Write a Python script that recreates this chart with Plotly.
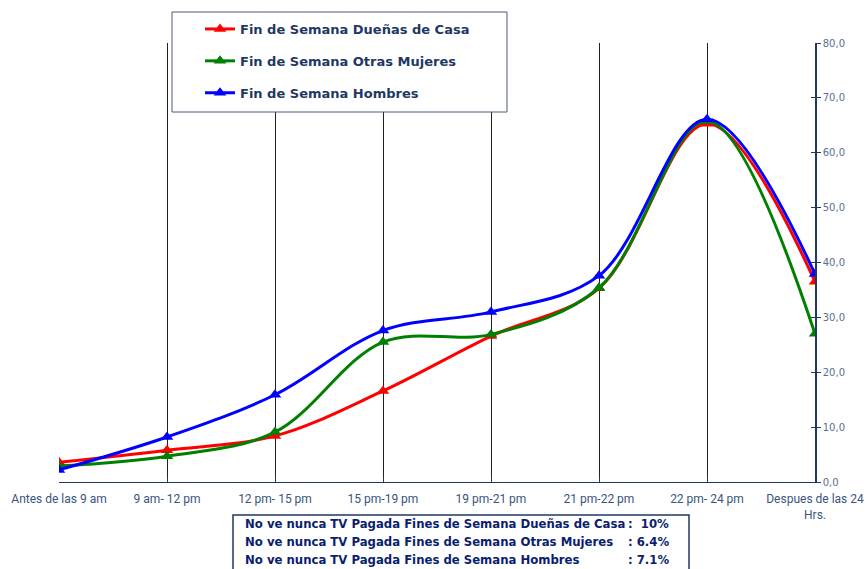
import plotly.graph_objects as go

categories = ["Antes de las 9 am", "9 am- 12 pm", "12 pm- 15 pm", "15 pm-19 pm",
              "19 pm-21 pm", "21 pm-22 pm", "22 pm- 24 pm", "Despues de las 24<br>Hrs."]
duenas = [3.6, 5.8, 8.4, 16.6, 26.6, 35.3, 65.3, 36.5]
otras = [2.9, 4.7, 9.1, 25.5, 26.9, 35.4, 65.8, 27.0]
hombres = [2.2, 8.2, 15.9, 27.6, 31.0, 37.6, 66.1, 37.9]
series_names = ["Fin de Semana Dueñas de Casa", "Fin de Semana Otras Mujeres", "Fin de Semana Hombres"]
series_colors = ["#FF0000", "#008000", "#0000FF"]
note_labels = ["No ve nunca TV Pagada Fines de Semana Dueñas de Casa",
               "No ve nunca TV Pagada Fines de Semana Otras Mujeres",
               "No ve nunca TV Pagada Fines de Semana Hombres"]
note_values = [":  10%", ": 6.4%", ": 7.1%"]
y_ticks = [0, 10, 20, 30, 40, 50, 60, 70, 80]

W, H = 868, 569
L, R, T, B = 59, 815, 43, 482  # plot area in page pixels


def px(x):
    return (x - L) / (R - L)


def py(y):
    return (B - y) / (B - T)


NAVY = "#1F3864"
fig = go.Figure()
for i, (name, vals, col) in enumerate(zip(series_names, [duenas, otras, hombres], series_colors)):
    fig.add_trace(go.Scatter(
        x=categories, y=vals, name=f"<b>{name}</b>", mode="lines+markers",
        line=dict(color=col, width=3, shape="spline", smoothing=1.0),
        marker=dict(symbol="triangle-up", size=11, color=col),
        legendgroup=f"g{i}",
    ))
# helper trace for the inner tick marks axis
fig.add_trace(go.Scatter(x=[categories[0]], y=[None], yaxis="y2", showlegend=False,
                         hoverinfo="skip", mode="markers"))

fig.update_layout(
    width=W, height=H,
    margin=dict(l=L, r=W - R, t=T, b=H - B, autoexpand=False),
    paper_bgcolor="white", plot_bgcolor="white",
    separators=",.",
    showlegend=True,
    legend=dict(
        x=px(200), y=py(14), xanchor="left", yanchor="top",
        bgcolor="rgba(0,0,0,0)", borderwidth=0,
        font=dict(family="DejaVu Sans", size=13, color=NAVY),
        traceorder="grouped", tracegroupgap=12,
        itemwidth=30,
    ),
    xaxis=dict(
        type="category", range=[0, 7], automargin=False,
        showgrid=True, gridcolor="#222222", gridwidth=1,
        showline=True, linecolor=NAVY, linewidth=1,
        ticks="inside", ticklen=5, tickcolor=NAVY,
        ticklabelstandoff=6,
        tickfont=dict(family="Roboto", size=12, color="#3A5580"),
        zeroline=False, fixedrange=True,
    ),
    yaxis=dict(
        side="right", range=[0, 80], tickvals=y_ticks, tickformat=".1f", automargin=False,
        showgrid=False, zeroline=False,
        showline=True, linecolor=NAVY, linewidth=1.5,
        ticks="outside", ticklen=4, tickcolor=NAVY,
        tickfont=dict(family="DejaVu Sans", size=10, color="#5A7090"),
    ),
    yaxis2=dict(
        overlaying="y", side="right", range=[0, 80], tickvals=y_ticks, automargin=False,
        showticklabels=False, showgrid=False, zeroline=False,
        ticks="inside", ticklen=4, tickcolor=NAVY, showline=False,
    ),
    shapes=[
        dict(type="rect", xref="paper", yref="paper",
             x0=px(172), x1=px(507), y0=py(112), y1=py(12),
             line=dict(color="#4A5A78", width=1), fillcolor="white", layer="above"),
        dict(type="rect", xref="paper", yref="paper",
             x0=px(233), x1=px(689), y0=py(580), y1=py(515),
             line=dict(color=NAVY, width=1.5), fillcolor="white", layer="above"),
    ],
)

for i, (lab, val) in enumerate(zip(note_labels, note_values)):
    yy = py(524 + i * 18)
    fig.add_annotation(x=px(243), y=yy, xref="paper", yref="paper", text=f"<b>{lab}</b>",
                       showarrow=False, xanchor="left", yanchor="middle",
                       font=dict(family="DejaVu Sans", size=11.7, color="#0A1E6E"))
    fig.add_annotation(x=px(626), y=yy, xref="paper", yref="paper", text=f"<b>{val}</b>",
                       showarrow=False, xanchor="left", yanchor="middle",
                       font=dict(family="DejaVu Sans", size=11.7, color="#0A1E6E"))

fig.write_html("out.html", config={"displayModeBar": False},
               post_script="document.body.style.margin='0';document.body.style.overflow='hidden';")
